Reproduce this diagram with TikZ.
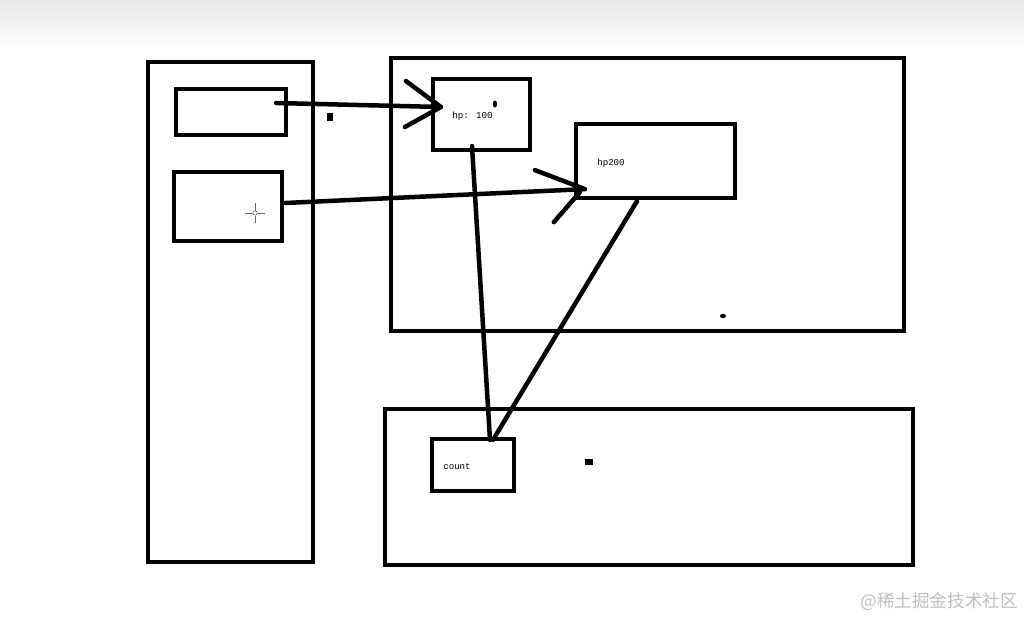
\documentclass[tikz,border=0pt]{standalone}
\usepackage{fontspec}
\setmainfont{Liberation Serif}
\newfontfamily\cjkwm{Noto Sans CJK SC}
\newfontfamily\labfont{Liberation Mono}
\usetikzlibrary{calc}
\tikzset{
  box/.style={draw=black, line width=3pt, inner sep=0pt, fill=none},
  lab/.style={font=\labfont\fontsize{6.5}{7}\selectfont, anchor=west, inner sep=0pt},
  conn/.style={draw=black, line width=3.2pt, line cap=round, line join=round},
  speck/.style={fill=black, draw=none}
}
\begin{document}
\begin{tikzpicture}[x=0.025cm,y=-0.025cm]
\useasboundingbox (0,0) rectangle (1024,618);
\fill[white] (0,0) rectangle (1024,618);
\shade[top color=black!9, bottom color=white] (0,0) rectangle (1024,52);
% boxes
\node[box, minimum width=4.125cm, minimum height=12.5cm] (stack) at (230.5,312) {};
\node[box, minimum width=2.75cm, minimum height=1.15cm] (refa) at (231,112) {};
\node[box, minimum width=2.7cm, minimum height=1.725cm] (refb) at (228,206.5) {};
\node[box, minimum width=12.825cm, minimum height=6.825cm] (heap) at (647.5,194.5) {};
\node[box, minimum width=2.425cm, minimum height=1.775cm] (hpa) at (481.5,114.5) {};
\node[box, minimum width=3.975cm, minimum height=1.85cm] (hpb) at (655.5,161) {};
\node[box, minimum width=13.2cm, minimum height=3.9cm] (meth) at (649,487) {};
\node[box, minimum width=2.05cm, minimum height=1.3cm] (cnt) at (473,465) {};
% labels
\node[lab] (ta) at (452,116) {hp: 100};
\node[lab] (tb) at (597,163) {hp200};
\node[lab] (tc) at (443,466) {count};
% connectors
\coordinate (s1) at ($(refa.east)+(-12,-9)$);
\coordinate (e1) at ($(hpa.west)+(10,-7.5)$);
\draw[conn] (s1) -- (e1);
\draw[conn] ($(e1)+(-35,-26)$) -- (e1) -- ($(e1)+(-36,20)$);
\coordinate (s2) at ($(refb.east)+(1,-3.5)$);
\coordinate (e2) at ($(hpb.south west)+(11,-11)$);
\draw[conn] (s2) -- (e2);
\draw[conn] ($(e2)+(-50,-19)$) -- (e2);
\draw[conn] ($(e2)+(-31,33)$) -- ($(e2)+(-5,3)$);
\draw[conn] ($(hpa.south)+(-9.5,-6)$) -- ($(cnt.north)+(17,3)$);
\draw[conn] ($(hpb.south)+(-18.5,1)$) -- ($(cnt.north)+(20,3)$);
% specks
\fill[speck] (327,113) rectangle (333,121);
\fill[speck] (495,104) ellipse (2.2 and 3.5);
\fill[speck] (723,316) ellipse (3 and 2.2);
\fill[speck] (585,459) rectangle (593,465);
% cursor
\begin{scope}[draw=black!60, line width=0.4pt]
\draw (245,213) -- (252.5,213) (257.5,213) -- (265,213);
\draw (255,203) -- (255,210.5) (255,215.5) -- (255,223);
\draw (255,213) circle (2.2);
\end{scope}
% watermark
\node[font=\cjkwm\fontsize{12.5}{13}\selectfont, text=black!25, anchor=east, inner sep=0pt] (wm) at (1018,602) {@稀土掘金技术社区};
\end{tikzpicture}
\end{document}
